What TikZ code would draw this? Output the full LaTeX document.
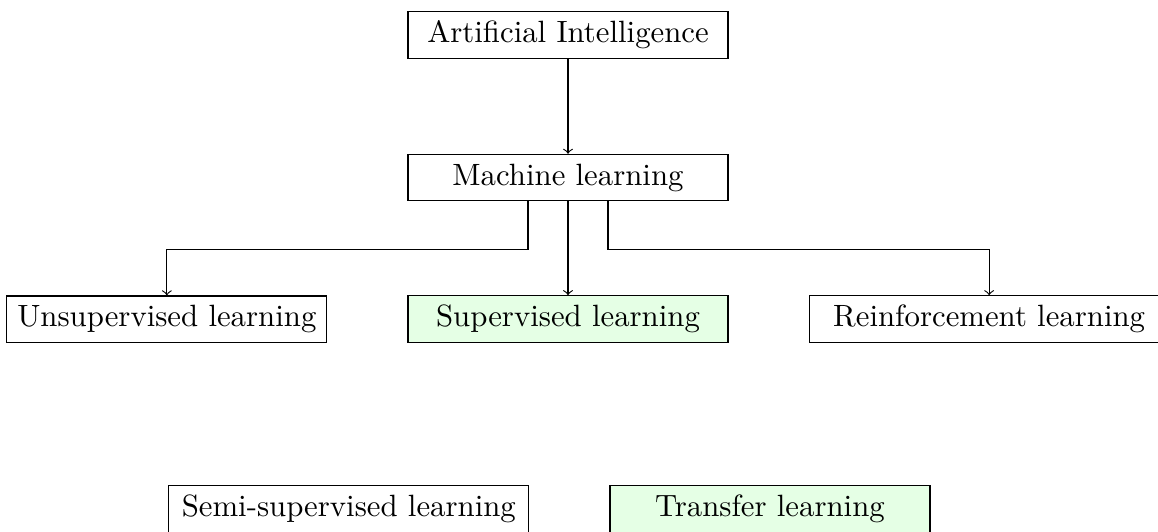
\documentclass[tikz,border=0pt]{standalone}
\usetikzlibrary{positioning}
\tikzset{
  box/.style={draw, minimum width=4cm, font=\fontsize{10.95}{13.6}\selectfont},
  widebox/.style={box, minimum width=4.5cm},
  chosen/.style={box, fill=green!10},
}
\begin{document}
\begin{tikzpicture}[>=to]
  \useasboundingbox (0,0) rectangle (14.475,-6.6375);
  \node[box] (ai) at (7.1,-0.4375) {Artificial Intelligence};
  \node[box] (ml) at (7.1,-2.22) {Machine learning};
  \node[chosen] (sup) at (7.1,-3.99) {Supervised learning};
  \node[box, left=1cm of sup] (unsup) {Unsupervised learning};
  \node[widebox, right=1cm of sup] (reinf) {Reinforcement learning};
  \node[widebox] (semi) at (4.36,-6.3625) {Semi-supervised learning};
  \node[chosen, right=1cm of semi] (transfer) {Transfer learning};
  \draw[->] (ai) -- (ml);
  \draw[->] (ml) -- (sup);
  \draw[->] ([xshift=-0.5cm]ml.south) -- ++(0,-0.6) -| (unsup.north);
  \draw[->] ([xshift=0.5cm]ml.south) -- ++(0,-0.6) -| (reinf.north);
\end{tikzpicture}
\end{document}
